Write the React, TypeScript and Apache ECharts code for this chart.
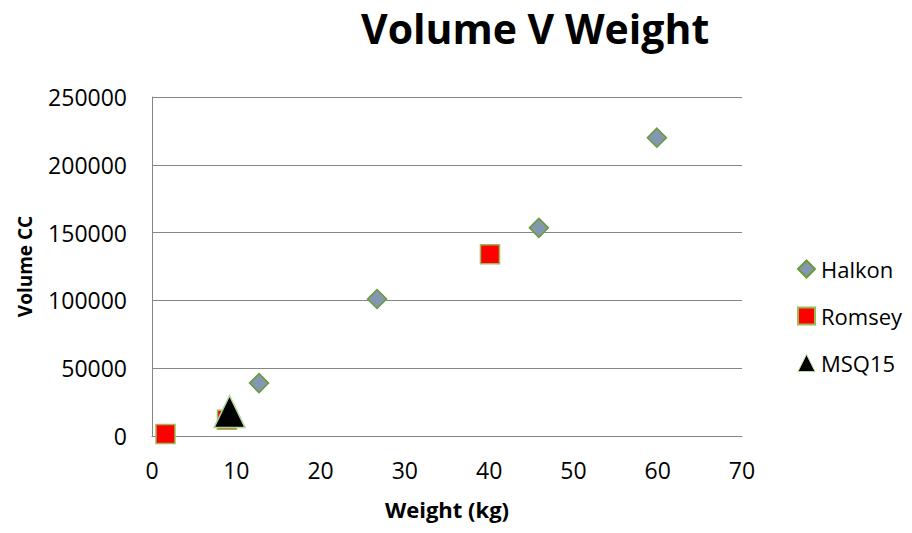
import React, { useEffect, useRef } from "react";
import * as echarts from "echarts";

const titleText = "Volume V Weight";
const xAxisName = "Weight (kg)";
const yAxisName = "Volume CC";

const halkonWeight = [12.7, 26.7, 45.9, 59.9];
const halkonVolume = [39000, 101000, 153500, 220000];

const romseyWeight = [1.6, 8.9, 40.1];
const romseyVolume = [1500, 12000, 134000];

const msqWeight = [9.2];
const msqVolume = [18000];

const FONT = "'Open Sans', sans-serif";

export default function App() {
  const ref = useRef<HTMLDivElement>(null);
  useEffect(() => {
    if (!ref.current) return;
    const chart = echarts.init(ref.current, null, { renderer: "svg" });
    const pairs = (xs: number[], ys: number[]) => xs.map((x, i) => [x, ys[i]]);
    chart.setOption({
      animation: false,
      backgroundColor: "#ffffff",
      title: {
        text: titleText,
        left: 356,
        top: 2,
        textStyle: { fontFamily: FONT, fontWeight: "bold", fontSize: 41, color: "#000" },
      },
      legend: {
        orient: "vertical",
        left: 792,
        top: 253,
        itemGap: 25,
        itemWidth: 17,
        itemHeight: 17,
        textStyle: { fontFamily: FONT, fontSize: 22, color: "#000", padding: [0, 0, 0, 1] },
        data: [
          { name: "Halkon" },
          { name: "Romsey" },
          { name: "MSQ15", itemStyle: { borderWidth: 1 } },
        ],
      },
      grid: { left: 152, right: 170, top: 97, bottom: 97 },
      xAxis: {
        type: "value",
        min: 0,
        max: 70,
        interval: 10,
        name: xAxisName,
        nameLocation: "middle",
        nameGap: 62,
        nameTextStyle: { fontFamily: FONT, fontWeight: "bold", fontSize: 22, color: "#000" },
        axisLine: { show: true, lineStyle: { color: "#868686", width: 1 } },
        axisTick: { show: false },
        splitLine: { show: false },
        axisLabel: { fontFamily: FONT, fontSize: 23, color: "#000", margin: 22 },
      },
      yAxis: {
        type: "value",
        min: 0,
        max: 250000,
        interval: 50000,
        name: yAxisName,
        nameLocation: "middle",
        nameRotate: 90,
        nameGap: 118,
        nameTextStyle: { fontFamily: FONT, fontWeight: "bold", fontSize: 19, color: "#000" },
        axisLine: { show: true, lineStyle: { color: "#868686", width: 1 } },
        axisTick: { show: false },
        splitLine: { show: true, lineStyle: { color: "#868686", width: 1 } },
        axisLabel: {
          fontFamily: FONT,
          fontSize: 23,
          color: "#000",
          margin: 25,
          formatter: (v: number) => String(v),
        },
      },
      series: [
        {
          name: "Halkon",
          type: "scatter",
          symbol: "diamond",
          symbolSize: 19,
          itemStyle: { color: "#8497b0", borderColor: "#6a9a3a", borderWidth: 1.5, opacity: 1 },
          data: pairs(halkonWeight, halkonVolume),
        },
        {
          name: "Romsey",
          type: "scatter",
          symbol: "rect",
          symbolSize: 19,
          itemStyle: { color: "#ff0000", borderColor: "#9bbb59", borderWidth: 1.5, opacity: 1 },
          data: pairs(romseyWeight, romseyVolume),
        },
        {
          name: "MSQ15",
          type: "scatter",
          symbol: "triangle",
          symbolSize: [31, 32],
          itemStyle: { color: "#000000", borderColor: "#b5d49a", borderWidth: 1.5, opacity: 1 },
          data: pairs(msqWeight, msqVolume),
        },
      ],
    });
    return () => chart.dispose();
  }, []);
  return (
    <div
      ref={ref}
      style={{ position: "absolute", left: 0, top: 0, width: 912, height: 533 }}
    />
  );
}
